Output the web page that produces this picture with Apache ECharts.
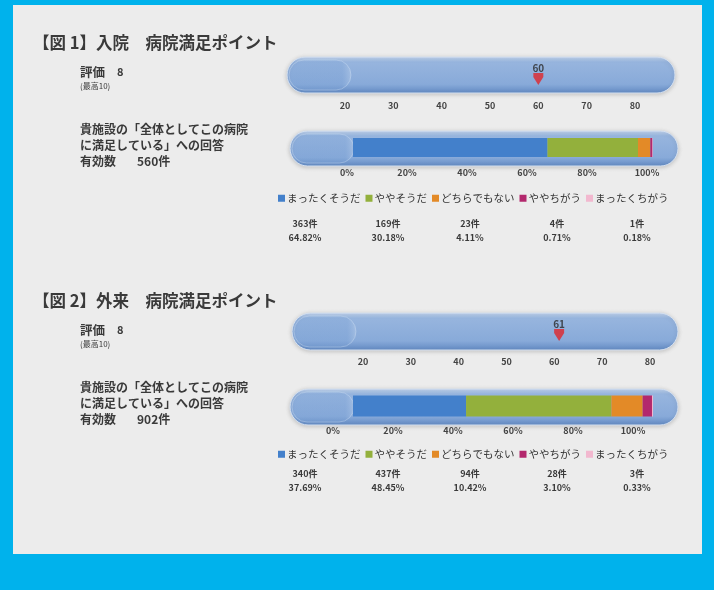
<!DOCTYPE html>
<html><head><meta charset="utf-8">
<script src="https://cdn.jsdelivr.net/npm/echarts@6/dist/echarts.min.js"></script>
<style>html,body{margin:0;padding:0;background:#00b2ec}#c{width:714px;height:590px}</style>
</head><body><div id="c"></div>
<script>
// ---- data ----
const answerNames = ['まったくそうだ', 'ややそうだ', 'どちらでもない', 'ややちがう', 'まったくちがう'];
const answerColors = ['#4380cb', '#93b03c', '#e38a27', '#b3286d', '#f2b8cf'];
const inpatientCounts = [363, 169, 23, 4, 1];
const inpatientPct = [64.82, 30.18, 4.11, 0.71, 0.18];
const outpatientCounts = [340, 437, 94, 28, 3];
const outpatientPct = [37.69, 48.45, 10.42, 3.10, 0.33];
const inpatientScore = 60;
const outpatientScore = 61;
const scoreTicks = [20, 30, 40, 50, 60, 70, 80];
const pctTicks = [0, 20, 40, 60, 80, 100];
const inpatientTotal = '560件';
const outpatientTotal = '902件';

const FONT = '"Noto Sans CJK JP", sans-serif';
const TXT = '#3a3a3a';

const chart = echarts.init(document.getElementById('c'));

function capsule(x, y, w, h) {
  return [{
    type: 'rect', z: 1,
    shape: { x: x, y: y, width: w, height: h, r: h / 2 },
    style: {
      fill: { type: 'linear', x: 0, y: 0, x2: 0, y2: 1, colorStops: [
        { offset: 0, color: '#c3d5ee' }, { offset: 0.15, color: '#97b5de' },
        { offset: 0.75, color: '#88aad9' }, { offset: 1, color: '#6189c2' }] },
      stroke: '#d7e2f1', lineWidth: 1,
      shadowBlur: 4, shadowColor: 'rgba(0,0,0,0.18)', shadowOffsetY: 1
    }
  }, {
    type: 'rect', z: 1,
    shape: { x: x + 2, y: y + 3, width: 62, height: h - 6, r: (h - 6) / 2 },
    style: {
      fill: { type: 'linear', x: 0, y: 0, x2: 1, y2: 0, colorStops: [
        { offset: 0, color: 'rgba(120,160,212,0.25)' }, { offset: 0.85, color: 'rgba(125,163,214,0.3)' },
        { offset: 1, color: 'rgba(190,210,236,0.45)' }] },
      stroke: 'rgba(215,228,245,0.35)', lineWidth: 1
    }
  }];
}

function txt(x, y, s, size, weight, align) {
  return { type: 'text', z: 10, x: x, y: y,
    style: { text: s, font: (weight || 'normal') + ' ' + size + 'px ' + FONT, fill: TXT,
      textAlign: align || 'left', textVerticalAlign: 'middle' } };
}

function countTexts(counts, pct, yc, yp) {
  const xs = [305, 388, 470, 557, 637];
  const out = [];
  counts.forEach((c, i) => {
    out.push(txt(xs[i], yc, c + '件', 9, 'bold', 'center'));
    out.push(txt(xs[i], yp, pct[i].toFixed(2) + '%', 9, 'bold', 'center'));
  });
  return out;
}

function leftBlock(y0, title, total) {
  return [
    txt(33, y0, title, 16.5, 'bold'),
    txt(80, y0 + 29, '評価', 12.5, 'bold'),
    txt(117, y0 + 29, '8', 11, 'bold'),
    txt(80, y0 + 43, '(最高10)', 8, 'normal'),
    txt(80, y0 + 86, '貴施設の「全体としてこの病院', 12, 'bold'),
    txt(80, y0 + 102, 'に満足している」への回答', 12, 'bold'),
    txt(80, y0 + 118, '有効数', 12, 'bold'),
    txt(137, y0 + 118, total, 12, 'bold')
  ];
}

const graphics = [].concat(
  [{ type: 'rect', z: 0, shape: { x: 13, y: 5, width: 689, height: 549 }, style: { fill: '#ececec' } }],
  capsule(287, 57, 388, 36),
  capsule(290, 131, 388, 35),
  capsule(292, 313, 386, 37),
  capsule(290, 389, 388, 36),
  leftBlock(43, '【図 1】入院　病院満足ポイント', inpatientTotal),
  leftBlock(301, '【図 2】外来　病院満足ポイント', outpatientTotal),
  countTexts(inpatientCounts, inpatientPct, 224, 238),
  countTexts(outpatientCounts, outpatientPct, 474, 488)
);

const scoreAxisLabel = { fontSize: 9, fontWeight: 'bold', color: '#444', fontFamily: FONT, margin: 7 };
const pctAxisLabel = (pad, m) => ({ fontSize: 9, fontWeight: 'bold', color: '#444', fontFamily: FONT,
  margin: m, formatter: '{value}%', padding: [0, pad, 0, 0] });

const grids = [
  { left: 345, width: 290, top: 58, height: 36 },
  { left: 353, width: 300, top: 137, height: 21 },
  { left: 363, width: 287, top: 314, height: 36 },
  { left: 353, width: 300, top: 395, height: 22 }
];

const xAxes = [
  { gridIndex: 0, type: 'value', min: 20, max: 80, interval: 10, axisLine: { show: false }, axisTick: { show: false }, splitLine: { show: false }, axisLabel: scoreAxisLabel },
  { gridIndex: 1, type: 'value', min: 0, max: 100, interval: 20, axisLine: { show: false }, axisTick: { show: false }, splitLine: { show: false }, axisLabel: pctAxisLabel(12, 10) },
  { gridIndex: 2, type: 'value', min: 20, max: 80, interval: 10, axisLine: { show: false }, axisTick: { show: false }, splitLine: { show: false }, axisLabel: scoreAxisLabel },
  { gridIndex: 3, type: 'value', min: 0, max: 100, interval: 20, axisLine: { show: false }, axisTick: { show: false }, splitLine: { show: false }, axisLabel: pctAxisLabel(40, 9) }
];
const yAxes = [0, 1, 2, 3].map(i => ({ gridIndex: i, type: 'category', data: [''], show: false }));

function stackSeries(pct, axis, stackName, bw) {
  return answerNames.map((n, i) => ({
    type: 'bar', name: n, xAxisIndex: axis, yAxisIndex: axis, stack: stackName,
    barWidth: bw, data: [pct[i]], itemStyle: { color: answerColors[i] }, z: 3, silent: true
  }));
}

function markerSeries(score, axis) {
  return {
    type: 'scatter', xAxisIndex: axis, yAxisIndex: axis, data: [[score, 0]],
    symbol: 'path://M0,0 L10,0 L10,4 L5,12 L0,4 Z', symbolSize: [10, 12], symbolOffset: [0, 3],
    itemStyle: { color: '#e0262b' }, z: 5,
    label: { show: true, position: 'top', distance: 0, formatter: '{@[0]}', fontSize: 10, fontWeight: 'bold', color: '#2a2a2a', fontFamily: FONT }
  };
}

const legendBase = (top) => ({
  data: answerNames, left: 278, top: top, padding: 0, itemWidth: 7, itemHeight: 7, itemGap: 5,
  icon: 'rect', selectedMode: false,
  textStyle: { fontSize: 10.5, fontFamily: FONT, color: '#333', padding: [0, 0, 0, -3] }
});

chart.setOption({
  backgroundColor: '#00b2ec',
  animation: false,
  color: answerColors,
  graphic: graphics,
  grid: grids,
  xAxis: xAxes,
  yAxis: yAxes,
  legend: [legendBase(193), legendBase(449)],
  series: [].concat(
    [markerSeries(inpatientScore, 0)],
    stackSeries(inpatientPct, 1, 'in', 19),
    [markerSeries(outpatientScore, 2)],
    stackSeries(outpatientPct, 3, 'out', 21)
  )
});
</script>
</body></html>
